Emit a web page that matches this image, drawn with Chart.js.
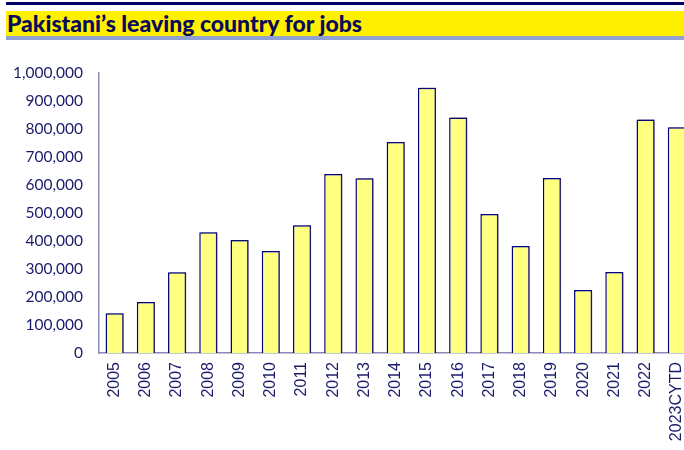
<!DOCTYPE html>
<html>
<head>
<meta charset="utf-8">
<script src="https://cdn.jsdelivr.net/npm/chart.js@4.4.0/dist/chart.umd.min.js"></script>
<style>
    html, body { margin: 0; padding: 0; background: #fff; overflow: hidden; width: 684px; height: 450px; }
    #topline { position: absolute; left: 6px; top: 2px; width: 678px; height: 3px; background: #000066; }
    #band { position: absolute; left: 6px; top: 11px; width: 678px; height: 25px; background: #fff000; }
    #band span { position: absolute; left: 1px; top: 0px; font: 900 23px Lato, sans-serif; color: #0a0a5a; line-height: 25px; }
    #underline { position: absolute; left: 6px; top: 36px; width: 678px; height: 4px; background: #8fa0d2; }
    #wrap { position: absolute; left: 0; top: 45px; width: 705px; height: 405px; }
</style>
</head>
<body>
<div id="topline"></div>
<div id="band"><span>Pakistani’s leaving country for jobs</span></div>
<div id="underline"></div>
<div id="wrap"><canvas id="canvas1" width="705" height="405"></canvas></div>
<script>
// workers registered for overseas employment, per year
var years = ["2005", "2006", "2007", "2008", "2009", "2010", "2011", "2012", "2013", "2014",
    "2015", "2016", "2017", "2018", "2019", "2020", "2021", "2022", "2023CYTD"];
var workers = [142000, 182000, 288000, 431000, 404000, 364000, 456000, 639000, 624000, 754000,
    947000, 841000, 496000, 382000, 625000, 225000, 289000, 834000, 806000];
var yTicks = [0, 100000, 200000, 300000, 400000, 500000, 600000, 700000, 800000, 900000, 1000000];

var navy = "#1b1b6b";

// soft shadow to the right of each bar
var barShadow = {
    id: 'barShadow',
    beforeDatasetsDraw: function (chart) {
        var ctx = chart.ctx;
        ctx.save();
        ctx.shadowColor = "rgba(40, 40, 110, 0.55)";
        ctx.shadowOffsetX = 2;
        ctx.shadowOffsetY = -1;
        ctx.shadowBlur = 1;
    },
    afterDatasetsDraw: function (chart) {
        chart.ctx.restore();
    }
};

new Chart(document.getElementById("canvas1"), {
    type: 'bar',
    data: {
        labels: years,
        datasets: [{
            data: workers,
            backgroundColor: "#ffff80",
            borderColor: "#000080",
            borderWidth: 1.5,
            barPercentage: 0.58,
            categoryPercentage: 1
        }]
    },
    options: {
        responsive: false,
        animation: false,
        layout: { padding: { top: 28, left: 0, right: 0, bottom: 0 } },
        plugins: { legend: { display: false }, tooltip: { enabled: false } },
        scales: {
            x: {
                grid: { display: false, drawTicks: false },
                border: { display: true, color: "#8a8ab8", width: 1.5 },
                ticks: {
                    color: navy,
                    font: { family: "'Liberation Sans', Arial, sans-serif", size: 16 },
                    minRotation: 90,
                    maxRotation: 90,
                    autoSkip: false,
                    padding: 9
                },
                afterFit: function (scale) { scale.height = 97; }
            },
            y: {
                min: 0,
                max: 1000000,
                grid: { display: false, drawTicks: false },
                border: { display: true, color: "#8a8ab8", width: 1.5 },
                afterBuildTicks: function (scale) {
                    scale.ticks = yTicks.map(function (v) { return { value: v }; });
                },
                ticks: {
                    color: navy,
                    font: { family: "Lato, sans-serif", size: 15.5 },
                    padding: 16,
                    callback: function (v) { return v.toLocaleString('en-US'); }
                },
                afterFit: function (scale) { scale.width = 99; }
            }
        }
    },
    plugins: [barShadow]
});
</script>
</body>
</html>
